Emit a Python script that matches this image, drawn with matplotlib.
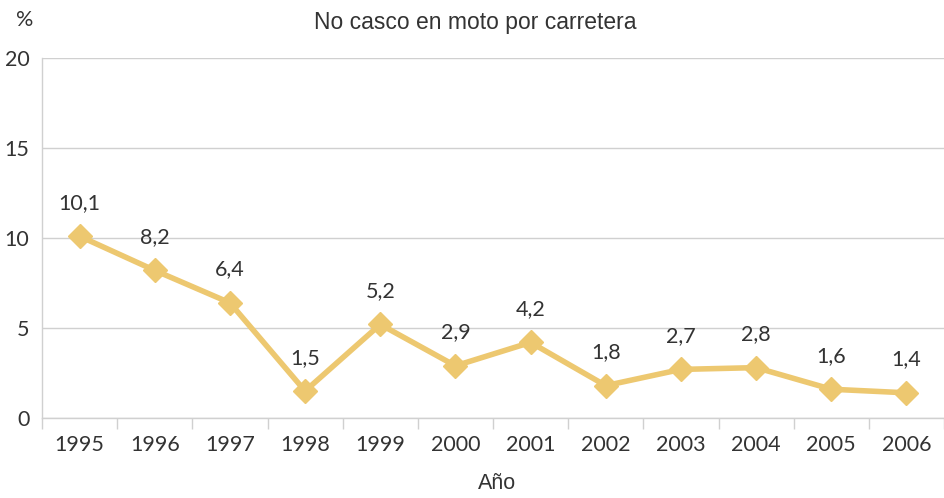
import matplotlib
matplotlib.use("Agg")
import matplotlib.pyplot as plt
from matplotlib.ticker import FixedLocator, NullFormatter

years = ["1995", "1996", "1997", "1998", "1999", "2000", "2001", "2002", "2003", "2004", "2005", "2006"]
values = [10.1, 8.2, 6.4, 1.5, 5.2, 2.9, 4.2, 1.8, 2.7, 2.8, 1.6, 1.4]
yticks = [0, 5, 10, 15, 20]

plt.rcParams['font.family'] = ['Lato', 'DejaVu Sans']
text_color = '#333333'
line_color = '#EDC870'
grid_color = '#D0D0D0'
fs = 15.5

fig = plt.figure(figsize=(9.44, 4.98), dpi=100)
ax = fig.add_axes([0.0445, 0.1606, 0.9555, 0.7229])

x = list(range(len(years)))
ax.plot(x, values, color=line_color, lw=4, marker='D', markersize=12, zorder=3)
for xi, v in zip(x, values):
    ax.annotate(f"{v:.1f}".replace('.', ','), (xi, v), xytext=(0, 24), textcoords='offset points',
                ha='center', va='center', fontsize=fs, color=text_color)

ax.set_xlim(-0.5, len(years) - 0.5)
ax.set_ylim(0, 20)
ax.set_yticks(yticks)
ax.set_yticklabels([str(t) for t in yticks])
ax.yaxis.grid(True, color=grid_color, lw=1)
ax.set_axisbelow(True)
ax.tick_params(axis='y', length=0, labelsize=fs, labelcolor=text_color, pad=9)

ax.set_xticks(x)
ax.set_xticklabels(years)
ax.tick_params(axis='x', which='major', length=0, labelsize=fs, labelcolor=text_color, pad=12)
ax.xaxis.set_minor_locator(FixedLocator([i - 0.5 for i in range(len(years) + 1)]))
ax.xaxis.set_minor_formatter(NullFormatter())
ax.tick_params(axis='x', which='minor', length=8, color=grid_color, width=1)

for s in ['top', 'right']:
    ax.spines[s].set_visible(False)
for s in ['left', 'bottom']:
    ax.spines[s].set_color(grid_color)
    ax.spines[s].set_linewidth(1)

fig.text(0.527, 0.03, "Año", ha='center', va='center', fontsize=fs, color=text_color,
         family=['Liberation Sans', 'DejaVu Sans'])
fig.text(0.503, 0.955, "No casco en moto por carretera", ha='center', va='center', fontsize=16.5,
         color=text_color, family=['Liberation Sans', 'DejaVu Sans'])
fig.text(0.026, 0.96, "%", ha='center', va='center', fontsize=fs, color=text_color)

fig.savefig("out.png", dpi=100)
